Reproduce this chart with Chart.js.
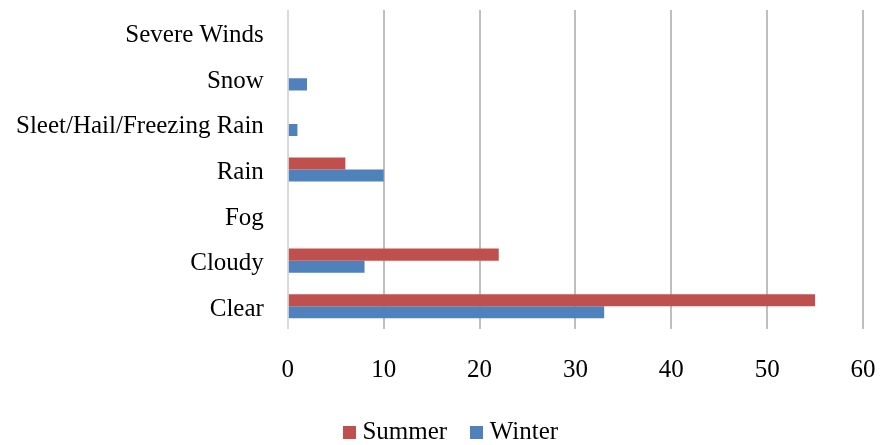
<!DOCTYPE html>
<html>
<head>
<meta charset="utf-8">
<script src="https://cdn.jsdelivr.net/npm/chart.js@4/dist/chart.umd.min.js"></script>
<style>
  html, body { margin: 0; padding: 0; background: #fff; }
  #wrap { width: 888px; height: 445px; }
</style>
</head>
<body>
<div id="wrap"><canvas id="grafico"></canvas></div>
<script>
// Dados (de cima para baixo)
const categorias = ['Severe Winds', 'Snow', 'Sleet/Hail/Freezing Rain', 'Rain', 'Fog', 'Cloudy', 'Clear'];
const verao = [0, 0, 0, 6, 0, 22, 55];
const inverno = [0, 2, 1, 10, 0, 8, 33];
const ticksX = [0, 10, 20, 30, 40, 50, 60];
const cores = ['#c0504d', '#4f81bd'];

const fonte = { family: '"Liberation Serif", "Times New Roman", serif', size: 25 };

// quadradinho da legenda (mais perto do texto que o padrão)
function quadrado(cor) {
  const c = document.createElement('canvas');
  c.width = 13; c.height = 13;
  const g = c.getContext('2d');
  g.fillStyle = cor;
  g.fillRect(0, 0, 13, 13);
  return c;
}

// empurra a legenda um pouco para a direita
const moverLegenda = {
  id: 'moverLegenda',
  afterLayout: c => { c.legend.left += 14; c.legend.right += 14; }
};

new Chart(document.getElementById('grafico'), {
  type: 'bar',
  data: {
    labels: categorias,
    datasets: [
      { label: 'Summer', data: verao, backgroundColor: cores[0] },
      { label: 'Winter', data: inverno, backgroundColor: cores[1] }
    ]
  },
  plugins: [moverLegenda],
  options: {
    indexAxis: 'y',
    responsive: true,
    maintainAspectRatio: false,
    animation: false,
    categoryPercentage: 0.53,
    barPercentage: 1,
    layout: { padding: { top: 10, right: 25, left: 16, bottom: -10 } },
    plugins: {
      legend: {
        position: 'bottom',
        labels: {
          font: fonte,
          color: '#000',
          usePointStyle: true,
          boxWidth: 1,
          boxHeight: 13,
          padding: 29,
          generateLabels: chart => Chart.defaults.plugins.legend.labels.generateLabels(chart)
            .map((it, i) => ({ ...it, pointStyle: quadrado(cores[i]) }))
        }
      },
      tooltip: { enabled: false }
    },
    scales: {
      x: {
        min: 0,
        max: 60,
        afterBuildTicks: ax => { ax.ticks = ticksX.map(v => ({ value: v })); },
        afterFit: s => { s.height = 62; s.paddingLeft = 0; s.paddingRight = 0; },
        ticks: { font: fonte, color: '#000', padding: 26 },
        grid: {
          color: ctx => ctx.index === 0 ? '#d9d9d9' : '#bfbfbf',
          lineWidth: 2,
          drawTicks: false
        },
        border: { display: false }
      },
      y: {
        afterFit: s => { s.paddingTop = 0; s.paddingBottom = 0; s.width -= 24; },
        ticks: { font: fonte, color: '#000', padding: 24, labelOffset: 3 },
        grid: { display: false, drawTicks: false },
        border: { display: false }
      }
    }
  }
});
</script>
</body>
</html>
